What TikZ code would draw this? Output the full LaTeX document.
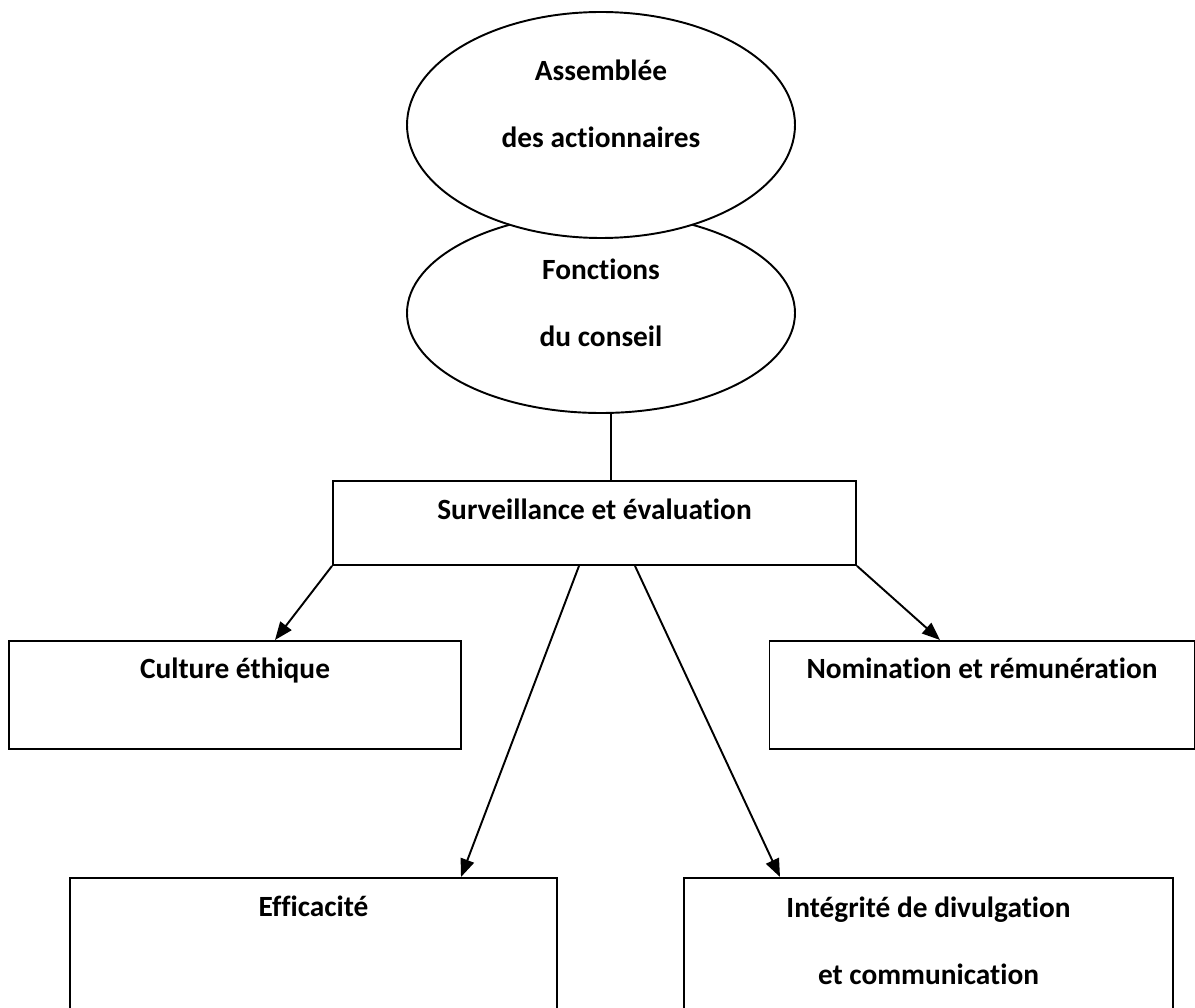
\documentclass[tikz,border=0pt]{standalone}
\usepackage{fontspec}
\setmainfont{Carlito}[Ligatures=NoCommon]
\usepackage{tikz}
\usetikzlibrary{arrows.meta, positioning, shapes.geometric}

\begin{document}
\begin{tikzpicture}[
  every node/.style={font=\fontsize{16.7}{38.55}\selectfont\bfseries},
  oval/.style={draw, ellipse, line width=1.1pt, minimum width=7.76cm, align=center, inner sep=0pt, text depth=0.2cm},
  box/.style={draw, rectangle, line width=1.1pt, anchor=north, inner sep=0pt, align=center, text height=0.78cm},
  arrow/.style={-{Triangle[length=3.6mm, width=2.8mm]}, line width=1.1pt}
]
\useasboundingbox (0,0) rectangle (23.9,-20.16);

% Level 1: the two ellipses (the upper one hides the top of the lower one)
\node[oval, minimum height=4cm, text height=1.56cm] (fonct) at (12.02, -6.26) {Fonctions\\du conseil};
\node[oval, fill=white, minimum height=4.52cm, text height=1.12cm] (assem) at (12.02, -2.5) {Assemblée\\des actionnaires};

% Level 2: Surveillance
\node[box, minimum width=10.46cm, text depth=0.9cm] (surv) at (11.89, -9.6) {Surveillance et évaluation};
\draw[line width=1.1pt] ([xshift=0.2cm]fonct.south) -- ([xshift=0.2cm]fonct.south |- surv.north);

% Level 3: Culture / Nomination
\node[box, minimum width=9.04cm, text height=0.76cm, text depth=1.4cm] (culture) at (4.7, -12.8) {Culture éthique};
\node[box, minimum width=8.5cm, text height=0.76cm, text depth=1.4cm] (nomin) at (19.64, -12.8) {Nomination et rémunération};
\draw[arrow] (surv.south west) -- ([xshift=0.8cm]culture.north);
\draw[arrow] (surv.south east) -- ([xshift=-0.84cm]nomin.north);

% Level 4: Efficacite / Integrite
\node[box, minimum width=9.74cm, text depth=3cm] (effic) at (6.27, -17.54) {Efficacité};
\node[box, minimum width=9.78cm, text height=2.14cm, text depth=3cm] (integ) at (18.57, -17.54) {Intégrité de divulgation\\et communication};
\draw[arrow] ([xshift=-0.31cm]surv.south) -- ([xshift=2.95cm]effic.north);
\draw[arrow] ([xshift=0.81cm]surv.south) -- ([xshift=-2.97cm]integ.north);

\end{tikzpicture}
\end{document}
